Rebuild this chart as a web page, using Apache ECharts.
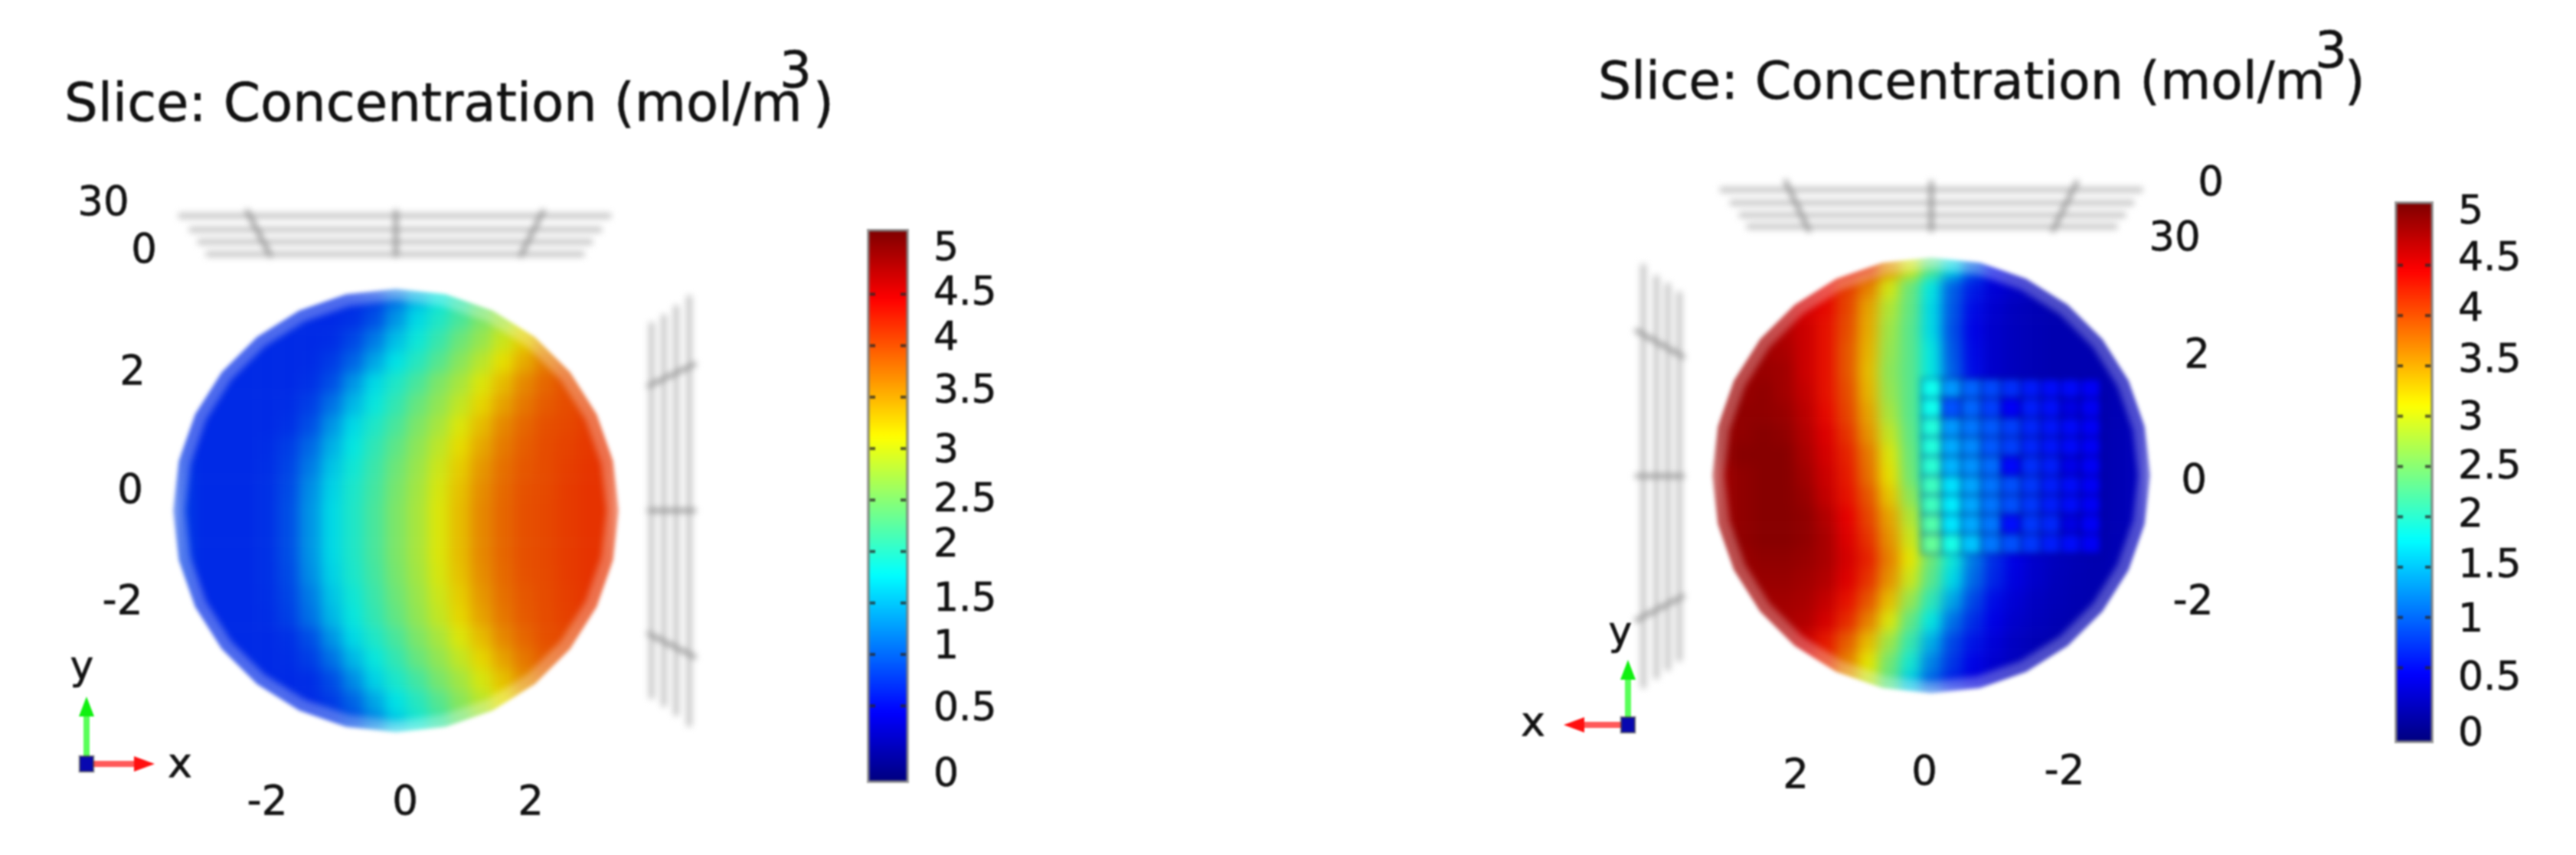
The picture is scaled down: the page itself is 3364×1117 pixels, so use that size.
<!DOCTYPE html>
<html>
<head>
<meta charset="utf-8">
<style>
html,body{margin:0;padding:0;background:#fff;width:3364px;height:1117px;overflow:hidden}
.layer{position:absolute;left:0;top:0;width:3364px;height:1117px}
#fieldWrap{filter:blur(2.5px)}
#field{filter:blur(8px) brightness(.9)}
#inset{filter:blur(4px)}
#top{filter:blur(1px)}
</style>
<script src="https://cdn.jsdelivr.net/npm/echarts@6/dist/echarts.min.js"></script>
</head>
<body>
<div id="fieldWrap" class="layer"><div id="field" class="layer"></div></div>
<div id="inset" class="layer"></div>
<div id="top" class="layer"></div>
<script>
// ---------- data ----------
const titleText = 'Slice: Concentration (mol/m';
const titleExponent = '3';
const colorbarTicks = [5, 4.5, 4, 3.5, 3, 2.5, 2, 1.5, 1, 0.5, 0];
const leftDepthTicks = ['30', '0'];
const leftYTicks = ['2', '0', '-2'];
const leftXTicks = ['-2', '0', '2'];
const rightDepthTicks = ['0', '30'];
const rightYTicks = ['2', '0', '-2'];
const rightXTicks = ['2', '0', '-2'];

// concentration, top row first, left column first
const leftField = [
 [.72,.72,.72,.72,.72,.68,.68,.68,.70,.78,1.10,1.50,1.82,2.07,2.37,2.60,2.90,3.20,3.50,3.75,3.92],
 [.68,.68,.68,.68,.68,.68,.68,.68,.72,.90,1.30,1.70,1.95,2.20,2.50,2.75,3.05,3.35,3.65,3.85,3.98],
 [.68,.68,.68,.68,.68,.68,.68,.70,.85,1.15,1.55,1.85,2.10,2.40,2.65,2.95,3.25,3.55,3.80,3.95,4.02],
 [.68,.68,.68,.68,.68,.68,.69,.78,1.02,1.40,1.75,2.00,2.27,2.57,2.85,3.15,3.45,3.72,3.90,4.00,4.06],
 [.68,.68,.68,.68,.68,.68,.72,.90,1.30,1.70,1.95,2.20,2.50,2.75,3.05,3.35,3.65,3.85,3.98,4.03,4.10],
 [.68,.68,.68,.68,.68,.70,.80,1.10,1.50,1.82,2.07,2.37,2.62,2.90,3.20,3.50,3.75,3.92,4.00,4.07,4.12],
 [.68,.68,.68,.68,.68,.72,.90,1.30,1.70,1.95,2.20,2.50,2.75,3.05,3.35,3.65,3.85,3.98,4.03,4.10,4.15],
 [.72,.68,.68,.68,.70,.80,1.05,1.46,1.80,2.05,2.32,2.60,2.87,3.17,3.47,3.73,3.90,4.00,4.06,4.12,4.15],
 [.76,.68,.68,.68,.71,.84,1.16,1.58,1.87,2.12,2.41,2.67,2.96,3.26,3.56,3.79,3.94,4.01,4.08,4.14,4.15],
 [.78,.68,.68,.68,.72,.87,1.26,1.66,1.93,2.17,2.47,2.72,3.02,3.32,3.62,3.83,3.97,4.02,4.10,4.15,4.15],
 [.80,.68,.68,.68,.72,.90,1.30,1.70,1.95,2.20,2.50,2.75,3.05,3.35,3.65,3.85,3.98,4.03,4.10,4.15,4.15],
 [.80,.68,.68,.68,.72,.90,1.30,1.70,1.95,2.20,2.50,2.75,3.05,3.35,3.65,3.85,3.98,4.03,4.10,4.15,4.15],
 [.80,.68,.68,.68,.72,.90,1.30,1.70,1.95,2.20,2.50,2.75,3.05,3.35,3.65,3.85,3.98,4.03,4.10,4.15,4.15],
 [.78,.68,.68,.68,.72,.87,1.26,1.66,1.93,2.17,2.47,2.72,3.02,3.32,3.62,3.83,3.97,4.02,4.10,4.15,4.15],
 [.76,.68,.68,.68,.71,.84,1.16,1.58,1.87,2.12,2.41,2.67,2.96,3.26,3.56,3.79,3.94,4.01,4.08,4.14,4.15],
 [.72,.68,.68,.68,.70,.81,1.10,1.50,1.82,2.07,2.35,2.62,2.90,3.20,3.50,3.75,3.92,4.00,4.07,4.12,4.15],
 [.68,.68,.68,.68,.68,.72,.90,1.30,1.70,1.95,2.20,2.50,2.75,3.05,3.35,3.65,3.85,3.98,4.03,4.10,4.15],
 [.68,.68,.68,.68,.68,.70,.80,1.10,1.50,1.82,2.07,2.37,2.62,2.90,3.20,3.50,3.75,3.92,4.00,4.07,4.12],
 [.68,.68,.68,.68,.68,.68,.70,.88,1.25,1.66,1.93,2.17,2.47,2.72,3.02,3.32,3.62,3.83,3.97,4.02,4.08],
 [.68,.68,.68,.68,.68,.68,.69,.78,1.02,1.40,1.75,2.00,2.27,2.57,2.85,3.15,3.45,3.72,3.90,4.00,4.06],
 [.68,.68,.68,.68,.68,.68,.68,.72,.87,1.20,1.60,1.88,2.12,2.42,2.67,2.96,3.26,3.56,3.79,3.94,4.01]
];
const rightField = [
 [4.6,4.6,4.6,4.6,4.6,4.5,4.4,4.2,3.6,3.0,2.3,1.7,1.0,.5,.25,.15,.12,.12,.12,.15,.2],
 [4.7,4.7,4.7,4.7,4.6,4.4,4.1,3.7,3.0,2.4,1.8,1.0,.6,.35,.25,.18,.13,.12,.12,.15,.2],
 [4.75,4.75,4.75,4.7,4.55,4.4,4.05,3.5,2.8,2.35,1.7,.95,.5,.3,.2,.15,.12,.12,.12,.15,.2],
 [4.75,4.8,4.8,4.75,4.6,4.35,4.0,3.45,2.7,2.3,1.7,.9,.45,.28,.2,.15,.12,.12,.12,.15,.2],
 [4.8,4.8,4.85,4.8,4.6,4.35,3.95,3.4,2.65,2.3,1.8,.95,.48,.28,.2,.15,.12,.12,.12,.15,.2],
 [4.8,4.85,4.9,4.85,4.6,4.35,3.95,3.35,2.6,2.3,1.8,1.0,.5,.28,.2,.15,.12,.12,.12,.15,.2],
 [4.85,4.9,4.95,4.85,4.65,4.35,4.0,3.4,2.65,2.3,1.8,1.0,.55,.3,.2,.15,.12,.12,.12,.15,.2],
 [4.85,4.95,4.95,4.9,4.7,4.4,4.05,3.5,2.75,2.3,1.85,1.05,.6,.33,.22,.15,.12,.12,.12,.15,.2],
 [4.9,4.95,5,4.95,4.75,4.5,4.15,3.6,2.9,2.35,1.85,1.1,.65,.38,.25,.17,.13,.12,.12,.15,.2],
 [4.9,5,5,5,4.8,4.55,4.25,3.75,3.05,2.4,1.9,1.15,.7,.43,.28,.2,.14,.12,.12,.15,.2],
 [4.85,4.95,5,5,4.85,4.6,4.3,3.8,3.15,2.45,1.9,1.2,.75,.45,.3,.2,.15,.12,.12,.15,.2],
 [4.85,4.95,5,5,4.9,4.65,4.35,3.95,3.3,2.6,2.05,1.4,.85,.5,.33,.22,.16,.13,.12,.15,.2],
 [4.85,4.95,5,5,4.95,4.75,4.45,4.05,3.5,2.8,2.2,1.55,1.0,.6,.38,.25,.17,.13,.12,.15,.2],
 [4.85,4.95,5,5,4.95,4.8,4.5,4.15,3.6,2.95,2.3,1.7,1.05,.65,.4,.27,.18,.14,.12,.15,.2],
 [4.8,4.9,4.95,4.95,4.9,4.8,4.55,4.25,3.7,3.1,2.4,1.85,1.15,.7,.43,.28,.2,.15,.12,.15,.2],
 [4.8,4.85,4.9,4.9,4.85,4.75,4.5,4.15,3.6,2.95,2.3,1.7,1.05,.65,.4,.27,.18,.14,.12,.15,.2],
 [4.75,4.8,4.85,4.85,4.8,4.65,4.35,3.95,3.35,2.65,2.05,1.4,.85,.5,.33,.22,.16,.13,.12,.15,.2],
 [4.7,4.75,4.8,4.8,4.75,4.55,4.2,3.7,3.05,2.35,1.8,1.1,.7,.43,.28,.2,.14,.12,.12,.15,.2],
 [4.7,4.75,4.75,4.75,4.6,4.3,3.9,3.35,2.7,2.1,1.45,.85,.55,.35,.22,.15,.12,.12,.12,.15,.2],
 [4.6,4.65,4.7,4.7,4.5,4.2,3.7,3.1,2.45,1.9,1.2,.75,.45,.3,.2,.15,.12,.12,.12,.15,.2],
 [4.5,4.5,4.5,4.5,4.4,4.0,3.5,2.9,2.3,1.6,1.0,.6,.38,.25,.15,.12,.12,.12,.12,.15,.2]
];
const meshField = [
 [1.85,1.25,1.0,.85,.7,.58,.5,.48,.42],
 [1.85,.85,1.0,.8,.42,.6,.52,.3,.4],
 [1.95,1.25,1.1,.95,.8,.65,.55,.48,.42],
 [1.95,1.35,1.2,.95,.8,.65,.55,.48,.42],
 [2.0,1.4,1.25,1.05,.48,.7,.6,.34,.42],
 [2.1,1.65,1.35,1.1,.9,.75,.6,.5,.42],
 [2.1,1.7,1.35,1.1,.9,.75,.6,.5,.42],
 [2.2,1.65,1.35,1.1,.52,.75,.65,.3,.42],
 [2.3,1.9,1.5,1.1,.9,.75,.6,.5,.42]
];

// ---------- scale and layout ----------
const SCALE_MIN = -0.235, SCALE_MAX = 5.12;
const JET = ['#00007f','#0000ff','#007fff','#00ffff','#7fff7f','#ffff00','#ff7f00','#ff0000','#7f0000'];
const FONT = '"DejaVu Sans", sans-serif';
// outline of a slice: a lightly faceted ellipse
function outline(cx, cy, rx, ry) {
  const sides = 28;
  return Array.from({length:sides}, (_, i) => {
    const a = i / sides * 2 * Math.PI;
    return [cx + rx * Math.cos(a), cy + ry * Math.sin(a)];
  });
}
const leftOutline = outline(517, 667, 291, 290);
const rightOutline = outline(2522, 621, 286, 285);
const toPath = pts => 'M' + pts.map(p => p.map(n => n.toFixed(1)).join(',')).join('L') + 'Z';
document.getElementById('field').style.clipPath = `path("${toPath(leftOutline)}${toPath(rightOutline)}")`;

const gridBox = (left, top, width, height) => ({left, top, width, height, containLabel:false});
const indices = n => Array.from({length:n}, (_, i) => i);
const cells = rows => rows.flatMap((row, r) => row.map((v, c) => [c, r, v]));

function heatOption(panels, border) {
  return {
    animation:false,
    grid: panels.map(p => p.box),
    xAxis: panels.map((p, i) => ({type:'category', gridIndex:i, show:false, data:indices(p.rows[0].length)})),
    yAxis: panels.map((p, i) => ({type:'category', gridIndex:i, show:false, inverse:true, data:indices(p.rows.length)})),
    visualMap: {show:false, min:SCALE_MIN, max:SCALE_MAX, inRange:{color:JET}, seriesIndex:panels.map((p, i) => i)},
    series: panels.map((p, i) => ({
      type:'heatmap', xAxisIndex:i, yAxisIndex:i, silent:true, progressive:0,
      data:cells(p.rows), emphasis:{disabled:true},
      itemStyle: border ? {borderColor:'rgba(0,0,90,.34)', borderWidth:4, opacity:.9} : {borderWidth:0}
    }))
  };
}
echarts.init(document.getElementById('field')).setOption(heatOption([
  {box:gridBox(224,376,586,582), rows:leftField},
  {box:gridBox(2234,336,576,571), rows:rightField}
], false));

// ---------- soft layer: mesh, rims, axis frames ----------
const soft = [];
const softLine = (x1, y1, x2, y2, stroke, lw) => soft.push({type:'line', silent:true, z:5,
  shape:{x1, y1, x2, y2}, style:{stroke, lineWidth:lw}});
const HLINE = '#c2c2c2', TICK = '#8e8e8e';
[[233,798,282],[247,786,300],[258,774,316],[269,763,332],
 [2246,2798,248],[2259,2787,265],[2271,2776,281],[2281,2765,296]]
  .forEach(a => softLine(a[0], a[2], a[1], a[2], HLINE, 7));
[[851,421,913],[867,411,923],[883,399,935],[900,386,949],
 [2146,345,899],[2163,360,887],[2178,370,876],[2193,381,864]]
  .forEach(a => softLine(a[0], a[1], a[0], a[2], HLINE, 7));
[[322,274,354,336],[517,274,517,336],[710,274,679,336],
 [845,505,909,475],[845,667,909,667],[845,827,909,859],
 [2331,235,2363,303],[2522,236,2522,303],[2713,236,2680,303],
 [2135,431,2200,467],[2135,622,2200,622],[2135,811,2200,778]]
  .forEach(a => softLine(a[0], a[1], a[2], a[3], TICK, 5));
[leftOutline, rightOutline].forEach(o => soft.push({type:'polygon', silent:true, z:4,
  shape:{points:o}, style:{fill:'transparent', stroke:'rgba(255,255,255,.3)', lineWidth:32, lineJoin:'round'}}));

const insetOption = heatOption([{box:gridBox(2510,495,233,228), rows:meshField}], true);
insetOption.graphic = {elements:soft};
echarts.init(document.getElementById('inset')).setOption(insetOption);

// ---------- annotation layer ----------
const g = [];
const inkStyle = {fill:'#111', stroke:'#111', lineWidth:.6};
const text = (t, x, y, size) => g.push({type:'text', x, y, silent:true, z:20,
  style:Object.assign({text:t, font:`${size}px ${FONT}`, textAlign:'center', textVerticalAlign:'middle'}, inkStyle)});
const line = (x1, y1, x2, y2, stroke, lw, z) => g.push({type:'line', silent:true, z:z||5,
  shape:{x1, y1, x2, y2}, style:{stroke, lineWidth:lw}});
const ALABEL = 53;

function title(x, base, size, supX, supY, parenX) {
  g.push({type:'text', x, y:base, silent:true, z:20,
    style:Object.assign({text:titleText, font:`${size}px ${FONT}`, textAlign:'left', textVerticalAlign:'bottom'}, inkStyle)});
  text(titleExponent, supX, supY, 66);
  g.push({type:'text', x:parenX, y:base, silent:true, z:20,
    style:Object.assign({text:')', font:`${size}px ${FONT}`, textAlign:'left', textVerticalAlign:'bottom'}, inkStyle)});
}
title(84, 175, 69, 1039, 97, 1062);
title(2087, 145, 68, 3044, 71, 3062);

function triad(ox, oy, dir, yTip, xTip, xLab, yLab) {
  line(ox, oy, ox, yTip + 20, 'rgba(60,255,60,.85)', 8);
  line(ox, oy, xTip - dir*20, oy, 'rgba(255,60,60,.85)', 8);
  g.push({type:'polygon', silent:true, z:6, shape:{points:[[ox,yTip],[ox-10,yTip+26],[ox+10,yTip+26]]}, style:{fill:'#10f010'}});
  g.push({type:'polygon', silent:true, z:6, shape:{points:[[xTip,oy],[xTip-dir*27,oy-10],[xTip-dir*27,oy+10]]}, style:{fill:'#ff1010'}});
  g.push({type:'rect', silent:true, z:7, shape:{x:ox-9, y:oy-10, width:18, height:20}, style:{fill:'#0808b0', stroke:'rgba(60,60,60,.5)', lineWidth:3}});
  text('x', xLab[0], xLab[1], 54);
  text('y', yLab[0], yLab[1], 52);
}
triad(113, 998, 1, 910, 202, [235,1001], [107,873]);
triad(2126, 947, -1, 862, 2042, [2002,947], [2116,828]);

// axis tick labels
const leftPos = {
  depth:[[135,267],[188,329]], y:[[173,488],[170,643],[160,788]], x:[[349,1050],[529,1050],[693,1050]]
};
const rightPos = {
  depth:[[2887,241],[2840,313]], y:[[2869,466],[2865,630],[2864,788]], x:[[2345,1015],[2513,1011],[2696,1010]]
};
leftDepthTicks.forEach((t,i) => text(t, leftPos.depth[i][0], leftPos.depth[i][1], ALABEL));
leftYTicks.forEach((t,i) => text(t, leftPos.y[i][0], leftPos.y[i][1], ALABEL));
leftXTicks.forEach((t,i) => text(t, leftPos.x[i][0], leftPos.x[i][1], ALABEL));
rightDepthTicks.forEach((t,i) => text(t, rightPos.depth[i][0], rightPos.depth[i][1], ALABEL));
rightYTicks.forEach((t,i) => text(t, rightPos.y[i][0], rightPos.y[i][1], ALABEL));
rightXTicks.forEach((t,i) => text(t, rightPos.x[i][0], rightPos.x[i][1], ALABEL));

// colour bars: frame, tick dots, labels
function barDecor(b, labelYs, labelX) {
  const yOf = v => b.top + b.h - (v - SCALE_MIN) / (SCALE_MAX - SCALE_MIN) * b.h;
  g.push({type:'rect', silent:true, z:9, shape:{x:b.left, y:b.top, width:b.w, height:b.h},
    style:{fill:'transparent', stroke:'rgba(120,120,120,.7)', lineWidth:4}});
  colorbarTicks.forEach((v, i) => {
    if (v > 0 && v < 5) {
      line(b.left+2, yOf(v), b.left+9, yOf(v), 'rgba(40,40,40,.75)', 4, 10);
      line(b.left+b.w-9, yOf(v), b.left+b.w-2, yOf(v), 'rgba(40,40,40,.75)', 4, 10);
    }
    g.push({type:'text', x:labelX, y:labelYs[i] + 4, silent:true, z:20,
      style:Object.assign({text:String(v), font:`52px ${FONT}`, textAlign:'left', textVerticalAlign:'middle'}, inkStyle)});
  });
}
const leftBar = {left:1134, top:301, w:51, h:720};
const rightBar = {left:3129, top:265, w:47, h:704};
barDecor(leftBar, [322,380,439,508,586,650,709,780,842,923,1009], 1219);
barDecor(rightBar, [274,335,401,468,543,607,670,736,807,883,956], 3210);

const bar = (b) => ({
  type:'continuous', min:SCALE_MIN, max:SCALE_MAX, left:b.left, top:b.top,
  itemWidth:b.w, itemHeight:b.h, padding:0, text:['',''], showLabel:false, calculable:false,
  hoverLink:false, realtime:false, inRange:{color:JET}, seriesIndex:[]
});
echarts.init(document.getElementById('top')).setOption({
  animation:false,
  visualMap:[bar(leftBar), bar(rightBar)],
  graphic:{elements:g}
});
</script>
</body>
</html>
